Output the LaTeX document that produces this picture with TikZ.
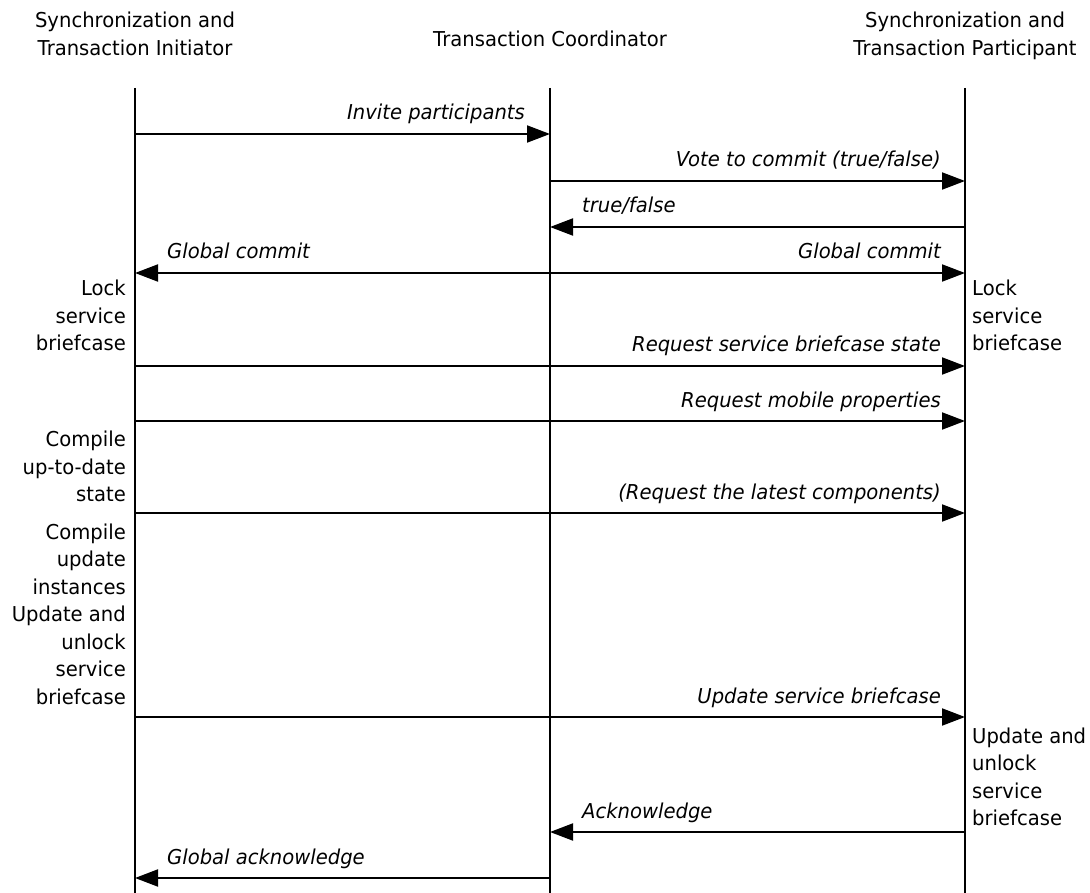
\documentclass[tikz,border=0pt]{standalone}
\usepackage{fontspec}
\setmainfont{DejaVu Sans}[FakeStretch=0.955]
\usetikzlibrary{arrows.meta,calc}

\tikzset{
  lifeline/.style={line width=2pt},
  msg/.style={line width=2pt, -{Triangle[length=23pt,width=17pt]}},
  txt/.style={inner sep=0pt, font=\fontsize{20.5}{27.5}\selectfont},
  msglabel/.style={txt, font=\fontsize{20.5}{27.5}\selectfont\itshape},
  head/.style={txt, anchor=base},
  leftnote/.style={txt, anchor=base east},
  rightnote/.style={txt, anchor=base west},
  labr/.style={msglabel, anchor=base east},
  labl/.style={msglabel, anchor=base west},
}

\begin{document}
\begin{tikzpicture}[x=1pt,y=-1pt]
\useasboundingbox (0,0) rectangle (1090,893);

% lifelines
\coordinate (I) at (135,88);  \coordinate (Ib) at (135,893);
\coordinate (C) at (550,88);  \coordinate (Cb) at (550,893);
\coordinate (P) at (965,88);  \coordinate (Pb) at (965,893);
\draw[lifeline] (I) -- (Ib);
\draw[lifeline] (C) -- (Cb);
\draw[lifeline] (P) -- (Pb);

% headings
\node[head] (hI) at (135,28) {\begin{tabular}[t]{@{}c@{}}Synchronization and\\Transaction Initiator\end{tabular}};
\node[head] (hC) at (550,47) {Transaction Coordinator};
\node[head] (hP) at (965,28) {\begin{tabular}[t]{@{}c@{}}Synchronization and\\Transaction Participant\end{tabular}};

% message rows
\coordinate (r1) at (0,134);
\coordinate (r2) at (0,181);
\coordinate (r3) at (0,227);
\coordinate (r4) at (0,273);
\coordinate (r5) at (0,366);
\coordinate (r6) at (0,421);
\coordinate (r7) at (0,513);
\coordinate (r8) at (0,717);
\coordinate (r9) at (0,832);
\coordinate (r10) at (0,878);

\draw[msg] (I |- r1) -- (C |- r1);
\node[labr] (l1) at ($(C |- r1)+(-25,-14)$) {Invite participants};

\draw[msg] (C |- r2) -- (P |- r2);
\node[labr] (l2) at ($(P |- r2)+(-24,-14)$) {Vote to commit (true/false)};

\draw[msg] (P |- r3) -- (C |- r3);
\node[labl] (l3) at ($(C |- r3)+(32,-14)$) {true/false};

\draw[msg] (C |- r4) -- (I |- r4);
\draw[msg] (C |- r4) -- (P |- r4);
\node[labl] (l4a) at ($(I |- r4)+(32,-14)$) {Global commit};
\node[labr] (l4b) at ($(P |- r4)+(-24,-14)$) {Global commit};

\draw[msg] (I |- r5) -- (P |- r5);
\node[labr] (l5) at ($(P |- r5)+(-24,-14)$) {Request service briefcase state};

\draw[msg] (I |- r6) -- (P |- r6);
\node[labr] (l6) at ($(P |- r6)+(-24,-14)$) {Request mobile properties};

\draw[msg] (I |- r7) -- (P |- r7);
\node[labr] (l7) at ($(P |- r7)+(-24,-14)$) {(Request the latest components)};

\draw[msg] (I |- r8) -- (P |- r8);
\node[labr] (l8) at ($(P |- r8)+(-24,-14)$) {Update service briefcase};

\draw[msg] (P |- r9) -- (C |- r9);
\node[labl] (l9) at ($(C |- r9)+(32,-14)$) {Acknowledge};

\draw[msg] (C |- r10) -- (I |- r10);
\node[labl] (l10) at ($(I |- r10)+(32,-14)$) {Global acknowledge};

% local actions
\node[leftnote] (n1) at (126,296) {\begin{tabular}[t]{@{}r@{}}Lock\\service\\briefcase\end{tabular}};
\node[rightnote] (n2) at (972,296) {\begin{tabular}[t]{@{}l@{}}Lock\\service\\briefcase\end{tabular}};
\node[leftnote] (n3) at (126,446.5) {\begin{tabular}[t]{@{}r@{}}Compile\\up-to-date\\state\end{tabular}};
\node[leftnote] (n4) at (126,539) {\begin{tabular}[t]{@{}r@{}}Compile\\update\\instances\end{tabular}};
\node[leftnote] (n5) at (126,621.5) {\begin{tabular}[t]{@{}r@{}}Update and\\unlock\\service\\briefcase\end{tabular}};
\node[rightnote] (n6) at (972,743) {\begin{tabular}[t]{@{}l@{}}Update and\\unlock\\service\\briefcase\end{tabular}};
\end{tikzpicture}
\end{document}
